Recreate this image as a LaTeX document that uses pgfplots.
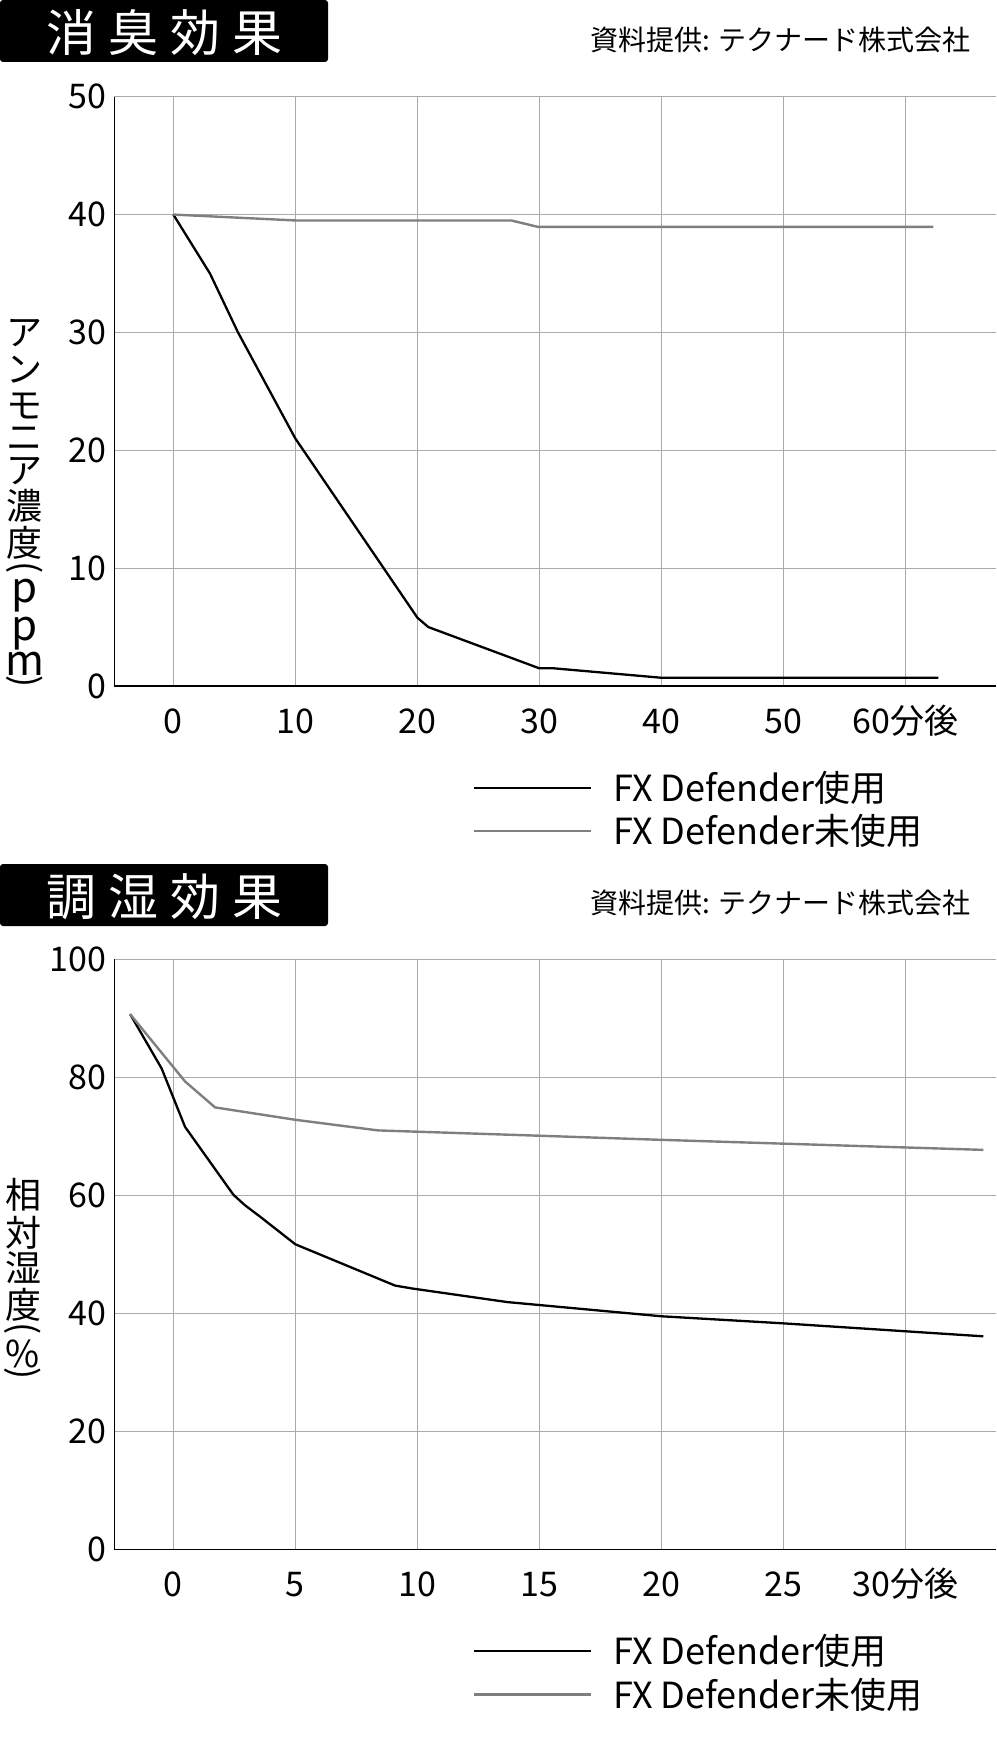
\documentclass[border=0pt]{standalone}
\usepackage{fontspec}
\setmainfont{Noto Sans CJK JP}
\usepackage{pgfplots}
\pgfplotsset{compat=1.18}

\definecolor{unused}{HTML}{7F7F7F}
\definecolor{gridc}{HTML}{AAAAAA}

\pgfplotsset{
  chart/.style={
    scale only axis, width=440.85pt,
    axis x line=bottom, axis y line=left,
    axis line style={-, line width=0.8pt, black},
    grid=major, major grid style={gridc, line width=0.5pt},
    major tick length=0pt,
    /pgf/number format/assume math mode=true,
    tick label style={font=\fontsize{17}{17}\selectfont, inner sep=0pt},
    yticklabel style={anchor=east, xshift=-4pt},
    xticklabel style={anchor=base, yshift=-23.5pt},
    legend cell align=left,
    legend image code/.code={\draw[##1] (0pt,0pt) -- (58.5pt,0pt);},
    legend style={draw=none, fill=none, inner sep=0pt, row sep=5pt,
      font=\fontsize{18}{18}\selectfont, nodes={inner sep=0pt},
      /tikz/every odd column/.append style={column sep=10.35pt},
      anchor=west, at={(axis description cs:0.4064,-0.2096)}},
  },
  used/.style={black, line width=1.15pt},
  notused/.style={unused, line width=1.2pt},
}

\begin{document}
\begin{tikzpicture}[x=0.5pt, y=-0.5pt]
\path[use as bounding box] (0,0) rectangle (996,1749);

% ---- 消臭効果 ----
\fill[rounded corners=1.5pt] (0,0) rectangle (328,62);
\node[white, inner sep=0, font=\fontsize{25}{25}\selectfont] at (164,33)
  {消\hspace{6pt}臭\hspace{6pt}効\hspace{6pt}果};
\node[anchor=east, inner sep=0, font=\fontsize{14}{15}\selectfont] at (971,40)
  {資料提供: テクナード株式会社};

\begin{axis}[chart, at={(57.15pt,-343pt)}, anchor=south west,
  height=294.65pt,
  xmin=-4.84, xmax=67.43, ymin=0, ymax=50,
  xtick={0,10,20,30,40,50,60},
  xticklabels={0,10,20,30,40,50,60分後},
  ytick={0,10,20,30,40,50}]
\addplot[used] coordinates {
  (0,40) (3,35) (5.3,30) (10,21) (20,5.8) (20.9,5.0)
  (30,1.5) (31.2,1.5) (40,0.7) (62.7,0.7)};
\addlegendentry{FX Defender使用}
\addplot[notused] coordinates {
  (0,40) (10,39.5) (27.7,39.5) (29.9,38.95) (62.3,38.95)};
\addlegendentry{FX Defender未使用}
\end{axis}

% vertical y label
\foreach \c/\y in {ア/333.5,ン/370,モ/406,ニ/439,ア/471,濃/506,度/543}
  \node[inner sep=0, font=\fontsize{18}{18}\selectfont] at (24.5,\y) {\c};
\node[inner sep=0, rotate=-90, font=\fontsize{18}{18}\selectfont] at (24.5,567.5) {(};
\foreach \c/\y in {p/602,p/640,m/675}
  \node[anchor=base, inner sep=0, font=\fontsize{21}{21}\selectfont] at (24.5,\y) {\c};
\node[inner sep=0, rotate=-90, font=\fontsize{18}{18}\selectfont] at (24.5,681.5) {)};

% ---- 調湿効果 ----
\fill[rounded corners=1.5pt] (0,864) rectangle (328,926);
\node[white, inner sep=0, font=\fontsize{25}{25}\selectfont] at (164,897)
  {調\hspace{6pt}湿\hspace{6pt}効\hspace{6pt}果};
\node[anchor=east, inner sep=0, font=\fontsize{14}{15}\selectfont] at (971,903)
  {資料提供: テクナード株式会社};

\begin{axis}[chart, at={(57.15pt,-774.65pt)}, anchor=south west,
  height=295pt,
  xmin=-2.42, xmax=33.72, ymin=0, ymax=100,
  xtick={0,5,10,15,20,25,30},
  xticklabels={0,5,10,15,20,25,30分後},
  ytick={0,20,40,60,80,100}]
\addplot[used] coordinates {
  (-1.77,90.7) (-0.48,81.5) (0.48,71.6) (2.46,60.1) (2.94,58.3) (3.55,56.4)
  (5,51.7) (9.09,44.7) (9.8,44.2) (13.7,41.9) (20,39.5) (25,38.3) (33.2,36.1)};
\addlegendentry{FX Defender使用}
\addplot[notused] coordinates {
  (-1.77,90.7) (0.48,79.3) (1.71,74.9) (5,72.8) (8.39,71.0)
  (15,70.1) (20,69.4) (33.2,67.7)};
\addlegendentry{FX Defender未使用}
\end{axis}

\foreach \c/\y in {相/1195,対/1232.5,湿/1267.5,度/1305}
  \node[inner sep=0, font=\fontsize{18}{18}\selectfont] at (23,\y) {\c};
\node[inner sep=0, rotate=-90, font=\fontsize{18}{18}\selectfont] at (23,1329) {(};
\node[inner sep=0, font=\fontsize{18.5}{18.5}\selectfont] at (23,1353.5) {\%};
\node[inner sep=0, rotate=-90, font=\fontsize{18}{18}\selectfont] at (23,1374) {)};
\end{tikzpicture}
\end{document}
